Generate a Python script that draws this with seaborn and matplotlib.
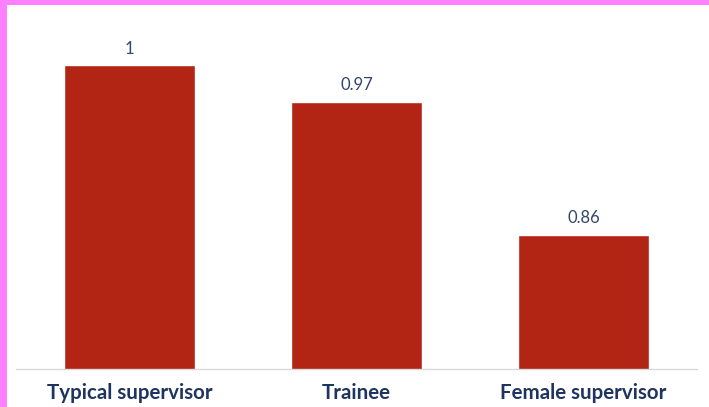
import pandas as pd
import matplotlib.pyplot as plt
import seaborn as sns

# chart values
categories = ["Typical supervisor", "Trainee", "Female supervisor"]
values = [1.00, 0.97, 0.86]
value_labels = ["1", "0.97", "0.86"]

df = pd.DataFrame({"group": categories, "value": values})

sns.set_style("white")
plt.rcParams["font.family"] = ["Lato", "DejaVu Sans"]

fig = plt.figure(figsize=(7.09, 4.07), dpi=100, facecolor="#ff80ff")

# white panel inside the pink frame
bg = fig.add_axes([7 / 709, 0, 702 / 709, 402 / 407])
bg.set_facecolor("white")
bg.set_axis_off()
bg.add_patch(plt.Rectangle((0, 0), 1, 1, transform=bg.transAxes, color="white", zorder=0))

ax = fig.add_axes([16 / 709, 38 / 407, 681 / 709, 364 / 407])
ax.set_facecolor("none")

sns.barplot(data=df, x="group", y="value", color="#b22514", width=0.575,
            saturation=1, ax=ax)

ax.set_ylim(0.749, 1.05)
ax.set_xlim(-0.5, 2.5)

for i, (v, lab) in enumerate(zip(values, value_labels)):
    ax.annotate(lab, (i, v), xytext=(0, 6), textcoords="offset points",
                ha="center", va="bottom", fontsize=12, color="#34456b")

ax.set_xlabel("")
ax.set_ylabel("")
ax.set_yticks([])
ax.tick_params(axis="x", length=0, pad=10)
for t in ax.get_xticklabels():
    t.set_fontsize(14.8)
    t.set_fontweight("bold")
    t.set_color("#1f3560")

sns.despine(ax=ax, left=True)
ax.spines["bottom"].set_color("#d9d9d9")
ax.spines["bottom"].set_linewidth(1)

fig.savefig("out.png", dpi=100, facecolor=fig.get_facecolor())
